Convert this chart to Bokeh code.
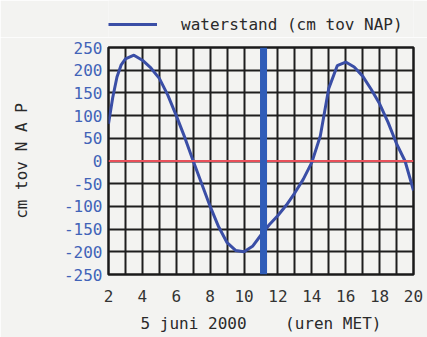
from bokeh.plotting import figure
from bokeh.layouts import column
from bokeh.models import FixedTicker, Legend, LegendItem, Span
from bokeh.embed import file_html
from bokeh.resources import INLINE

# --- data ---
hours = [2, 2.25, 2.5, 2.75, 3, 3.5, 4, 4.5, 5, 5.5, 6, 6.5, 7, 7.5, 8, 8.5, 9, 9.5,
         10, 10.5, 11, 11.5, 12, 12.5, 13, 13.5, 14, 14.5, 15, 15.5, 16, 16.5, 17,
         17.5, 18, 18.5, 19, 19.5, 20]
waterstand = [82, 140, 185, 212, 225, 233, 222, 205, 182, 145, 100, 52, 0, -50, -100,
              -145, -180, -197, -200, -188, -163, -140, -120, -97, -70, -40, -3, 55,
              160, 210, 218, 207, 187, 158, 126, 85, 38, 0, -65]
now_hour = 11.15
x_ticks = [2, 4, 6, 8, 10, 12, 14, 16, 18, 20]
x_grid = list(range(2, 21))
y_ticks = [-250, -200, -150, -100, -50, 0, 50, 100, 150, 200, 250]
y_tick_labels = ["-250", "-200", "-150", "-100", "-50", "0", "50", "100", "150", "200", "250"]
series_label = "waterstand (cm tov NAP)"
x_title = "5 juni 2000\u00a0\u00a0\u00a0\u00a0(uren MET)"
y_title = "cm tov N A P"

BG = "#f3f3f1"
FONT = "DejaVu Sans Mono"
CURVE = "#3a4ea6"

# --- legend strip ---
top = figure(width=427, height=37, output_backend="svg", toolbar_location=None,
             x_axis_type=None, y_axis_type=None)
top.min_border = 0
top.background_fill_color = BG
top.border_fill_color = BG
top.outline_line_color = None
top.xgrid.visible = False
top.ygrid.visible = False
key = top.line(hours, waterstand, line_color=CURVE, line_width=3, visible=False)
legend = Legend(items=[LegendItem(label=series_label, renderers=[key])],
                location=(0, 3), orientation="horizontal")
legend.padding = 0
legend.margin = 0
legend.border_line_color = None
legend.background_fill_alpha = 0
legend.inactive_fill_alpha = 0
legend.glyph_width = 49
legend.glyph_height = 20
legend.label_height = 20
legend.label_standoff = 24
legend.label_text_font = FONT
legend.label_text_font_size = "16px"
legend.label_text_color = "#2a2a2a"
top.add_layout(legend)

# --- main chart ---
p = figure(width=427, height=300, output_backend="svg", toolbar_location=None,
           x_range=(2, 20), y_range=(-250, 250))
p.min_border_left = 108
p.min_border_right = 14
p.min_border_top = 10
p.min_border_bottom = 63
p.background_fill_color = BG
p.border_fill_color = BG
p.outline_line_color = "#1a1a1a"
p.outline_line_width = 2.5

p.xgrid.ticker = FixedTicker(ticks=x_grid)
p.ygrid.ticker = FixedTicker(ticks=y_ticks)
for g in (p.xgrid, p.ygrid):
    g.grid_line_color = "#1e1e1e"
    g.grid_line_width = 2
    g.grid_line_alpha = 1

p.xaxis.ticker = FixedTicker(ticks=x_ticks)
p.yaxis.ticker = FixedTicker(ticks=y_ticks)
p.yaxis.major_label_overrides = {t: s for t, s in zip(y_ticks, y_tick_labels)}
for ax in (p.xaxis, p.yaxis):
    ax.axis_line_color = None
    ax.major_tick_line_color = None
    ax.minor_tick_line_color = None
    ax.major_tick_out = 0
    ax.major_tick_in = 0
    ax.major_label_text_font = FONT
    ax.major_label_text_font_size = "16px"
    ax.axis_label_text_font = FONT
    ax.axis_label_text_font_style = "normal"
    ax.axis_label_text_font_size = "16px"
    ax.axis_label_text_color = "#2a2a2a"
p.xaxis.major_label_text_color = "#333333"
p.yaxis.major_label_text_color = "#4163b8"
p.xaxis.major_label_standoff = 15
p.yaxis.major_label_standoff = 6
p.xaxis.axis_label = x_title
p.yaxis.axis_label = y_title
p.xaxis.axis_label_standoff = 9
p.yaxis.axis_label_standoff = 30

zero = Span(location=0, dimension="width", line_color="#e8505a", line_width=2)
p.add_layout(zero)

now = Span(location=now_hour, dimension="height", line_color="#2f5cb8", line_width=7)
p.add_layout(now)

p.line(hours, waterstand, line_color=CURVE, line_width=3)

layout = column(top, p, spacing=0)
open("out.html", "w").write(file_html(layout, INLINE))
